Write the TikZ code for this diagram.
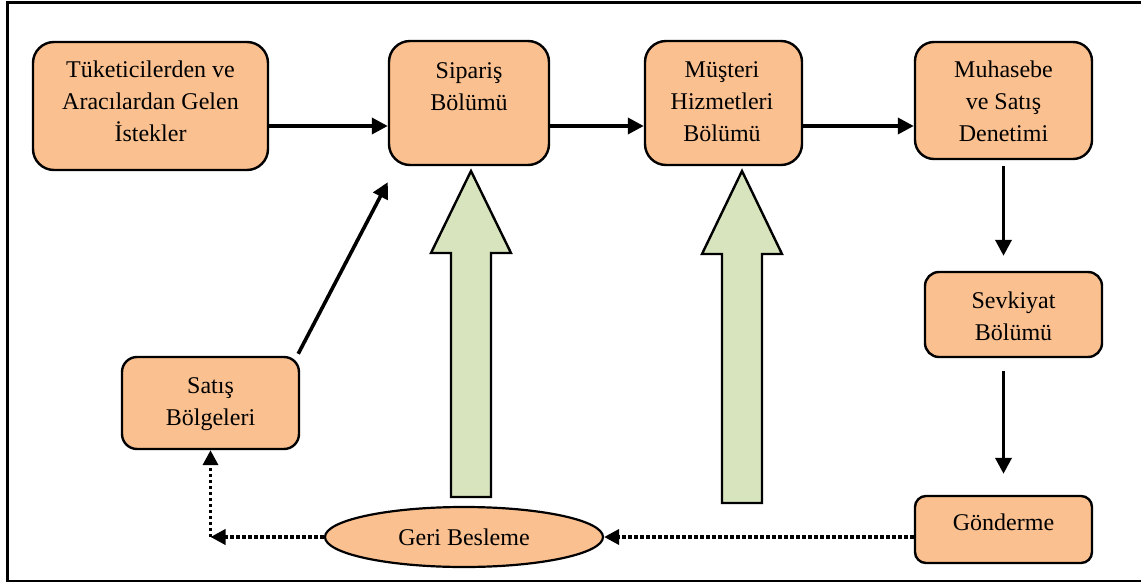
\documentclass[tikz,border=0pt]{standalone}
\usepackage{fontspec}
\setmainfont{Liberation Serif}
\usetikzlibrary{arrows.meta,shapes.geometric,calc}
\definecolor{boxfill}{HTML}{FAC090}
\definecolor{arrowfill}{HTML}{D7E4BD}
\tikzset{
  unitbox/.style={draw=black, line width=2.4pt, fill=boxfill, inner sep=0pt},
  captxt/.style={anchor=base, inner sep=0pt, font=\fontsize{24}{32}\selectfont},
  conn/.style={line width=3.6pt, -{Triangle[length=16pt,width=16pt]}},
  dotconn/.style={line width=3.6pt, dash pattern=on 3.5pt off 2.5pt, -{Triangle[length=15pt,width=15pt]}},
  bigarrow/.style={draw=black, line width=2.4pt, fill=arrowfill, line join=miter},
}
\newcommand{\lines}[1]{\begin{tabular}[t]{@{}c@{}}#1\end{tabular}}
\begin{document}
\begin{tikzpicture}[x=1pt, y=-1pt]
\useasboundingbox (0,0) rectangle (1141,583);
% outer frame
\draw[line width=2.4pt] (7.5,2.7) rectangle (1146,581);

% process boxes
\node[unitbox, rounded corners=21pt, minimum width=235pt, minimum height=128pt] (b1) at (150.5,106) {};
\node[unitbox, rounded corners=21pt, minimum width=160pt, minimum height=124pt] (b2) at (469,103) {};
\node[unitbox, rounded corners=21pt, minimum width=157pt, minimum height=124pt] (b3) at (723.5,103) {};
\node[unitbox, rounded corners=19pt, minimum width=177pt, minimum height=117pt] (b4) at (1003.5,100.5) {};
\node[unitbox, rounded corners=14pt, minimum width=177pt, minimum height=85pt] (b5) at (1013.5,314.5) {};
\node[unitbox, rounded corners=11pt, minimum width=177pt, minimum height=67pt] (b6) at (1003.5,529.5) {};
\node[unitbox, rounded corners=15pt, minimum width=177pt, minimum height=92pt] (b7) at (210.5,403) {};
\node[ellipse, draw=black, line width=2.2pt, fill=boxfill, inner sep=0pt,
      minimum width=278pt, minimum height=60pt, font=\fontsize{24}{32}\selectfont] (ell) at (464,537) {Geri Besleme};

% box captions
\node[captxt] (t1) at (150.5,78) {\lines{Tüketicilerden ve\\Aracılardan Gelen\\İstekler}};
\node[captxt] (t2) at (469,79) {\lines{Sipariş\\Bölümü}};
\node[captxt] (t3) at (722,78) {\lines{Müşteri\\Hizmetleri\\Bölümü}};
\node[captxt] (t4) at (1003.5,78) {\lines{Muhasebe\\ve Satış\\Denetimi}};
\node[captxt] (t5) at (1013.5,308) {\lines{Sevkiyat\\Bölümü}};
\node[captxt] (t6) at (1003.5,530) {Gönderme};
\node[captxt] (t7) at (210.5,393) {\lines{Satış\\Bölgeleri}};

% wide upward arrows
\draw[bigarrow] (451,497) -- (451,253) -- (431,253) -- (471,171) -- (511,253) -- (491,253) -- (491,497) -- cycle;
\draw[bigarrow] (722,503) -- (722,254) -- (702,254) -- (742,171) -- (782,254) -- (762,254) -- (762,503) -- cycle;

% main flow
\coordinate (row) at (0,126);
\draw[conn] (b1.east |- row) -- (b2.west |- row);
\draw[conn] (b2.east |- row) -- (b3.west |- row);
\draw[conn] (b3.east |- row) -- (b4.west |- row);
\draw[conn] ($(b4.south)+(0,6)$) -- ($(b4.south |- b5.north)+(0,-15)$);
\draw[conn] ($(b6.north |- b5.south)+(0,13)$) -- ($(b6.north)+(0,-21)$);
\draw[conn] ($(b7.north east)+(-2,-2)$) -- ($(b2.south west)+(0,16)$);

% feedback loop
\coordinate (fbk) at (b7.south |- ell.west);
\draw[dotconn] (b6.west |- ell.east) -- (ell.east);
\draw[dotconn] (ell.west) -- (fbk);
\draw[dotconn] (fbk) -- (b7.south);
\end{tikzpicture}
\end{document}
